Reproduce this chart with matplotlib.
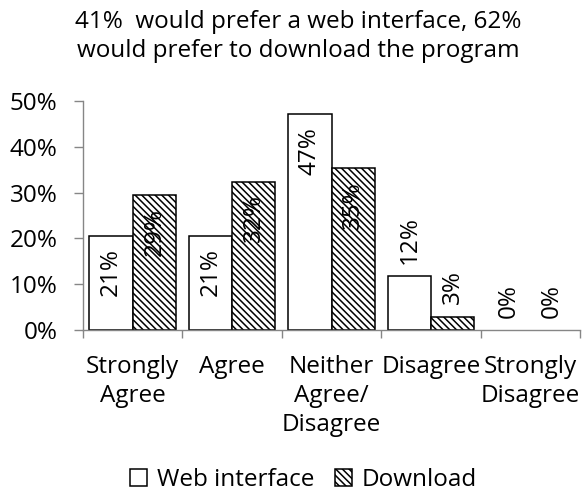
import matplotlib
matplotlib.use("Agg")
import matplotlib.pyplot as plt
import numpy as np

categories = ["Strongly\nAgree", "Agree", "Neither\nAgree/\nDisagree", "Disagree", "Strongly\nDisagree"]
web_interface = [0.206, 0.206, 0.471, 0.118, 0.0]
download = [0.294, 0.324, 0.353, 0.029, 0.0]
web_labels = ["21%", "21%", "47%", "12%", "0%"]
download_labels = ["29%", "32%", "35%", "3%", "0%"]
y_ticks = [0, 0.1, 0.2, 0.3, 0.4, 0.5]
y_tick_labels = ["0%", "10%", "20%", "30%", "40%", "50%"]
title = "41%  would prefer a web interface, 62%\nwould prefer to download the program"

plt.rcParams['font.family'] = ['Open Sans', 'DejaVu Sans']
plt.rcParams['hatch.linewidth'] = 1.1
plt.rcParams['hatch.color'] = 'black'

fig = plt.figure(figsize=(5.83, 5.04), dpi=100)
ax = fig.add_axes([0.1424, 0.345, 0.8526, 0.4546])

x = np.arange(len(categories))
w = 0.435
b1 = ax.bar(x - w / 2, web_interface, w, color='white', edgecolor='black', linewidth=1.1, label='Web interface')
b2 = ax.bar(x + w / 2, download, w, color='white', edgecolor='black', linewidth=1.1,
            hatch='\\\\\\\\\\', label='Download')
for bars, vals in ((b1, web_interface), (b2, download)):
    for rect, v in zip(bars, vals):
        if v == 0:
            rect.set_visible(False)

fs = 17.5
for bars, vals, labs in ((b1, web_interface, web_labels), (b2, download, download_labels)):
    for rect, v, lab in zip(bars, vals, labs):
        cx = rect.get_x() + rect.get_width() / 2
        if v > 0.15:
            ax.annotate(lab, (cx, v), xytext=(0, -9), textcoords='offset points',
                        rotation=90, ha='center', va='top', fontsize=fs)
        else:
            ax.annotate(lab, (cx, v), xytext=(0, 9), textcoords='offset points',
                        rotation=90, ha='center', va='bottom', fontsize=fs)

ax.set_xlim(-0.5, len(categories) - 0.5)
ax.set_ylim(0, 0.5)
ax.set_yticks(y_ticks)
ax.set_yticklabels(y_tick_labels, fontsize=fs)
ax.set_xticks(x)
ax.set_xticklabels(categories, fontsize=fs, linespacing=1.28)
ax.tick_params(axis='x', which='major', length=0, pad=18)
ax.set_xticks(np.arange(-0.5, len(categories) + 0.5, 1), minor=True)
ax.tick_params(axis='x', which='minor', length=6, color='#868686', width=1)
ax.tick_params(axis='y', length=6.5, color='#868686', width=1, pad=12)

for s in ('top', 'right'):
    ax.spines[s].set_visible(False)
for s in ('left', 'bottom'):
    ax.spines[s].set_color('#868686')
    ax.spines[s].set_linewidth(1)

fig.text(0.511, 0.98, title, ha='center', va='top', fontsize=fs, linespacing=1.3)

fig.legend(handles=[b1, b2], loc='lower center', bbox_to_anchor=(0.52, 0.0), ncol=2, frameon=False,
           fontsize=fs, handlelength=0.7, handleheight=0.7, handletextpad=0.4, columnspacing=0.85,
           borderaxespad=0.1)

fig.savefig("out.png", dpi=100)
